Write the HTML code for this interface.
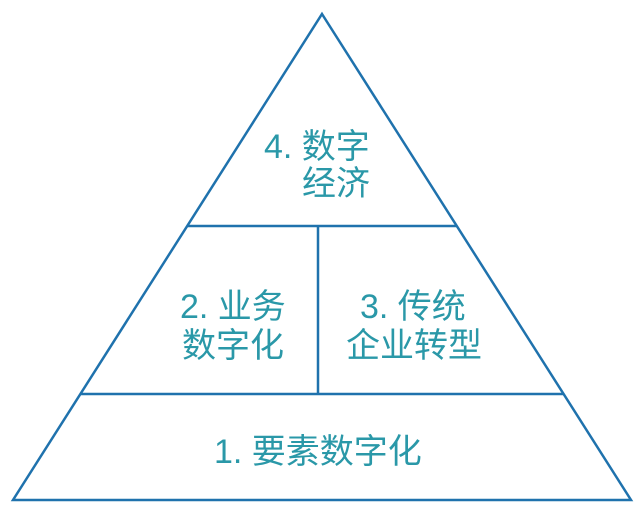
<!DOCTYPE html>
<html><head><meta charset="utf-8"><style>
html,body{margin:0;padding:0;background:#fff;width:640px;height:523px;overflow:hidden}
svg{display:block}
text{font-family:"Liberation Sans","Noto Sans CJK SC",sans-serif;font-size:34px;fill:#2a98a8;dominant-baseline:central}
</style></head><body>
<svg width="640" height="523" viewBox="0 0 640 523">
<g stroke="#1f72ad" stroke-width="2.5" fill="none">
<polygon points="322,14 631,500 13,500" stroke-linejoin="miter"/>
<line x1="187" y1="226" x2="457" y2="226"/>
<line x1="80" y1="394" x2="564" y2="394"/>
<line x1="318" y1="226" x2="318" y2="394"/>
</g>
<text x="264" y="147">4. 数字</text>
<text x="302" y="184">经济</text>
<text x="180" y="307">2. 业务</text>
<text x="182" y="346">数字化</text>
<text x="360" y="307">3. 传统</text>
<text x="346" y="346">企业转型</text>
<text x="214" y="452">1. 要素数字化</text>
</svg>
</body></html>
